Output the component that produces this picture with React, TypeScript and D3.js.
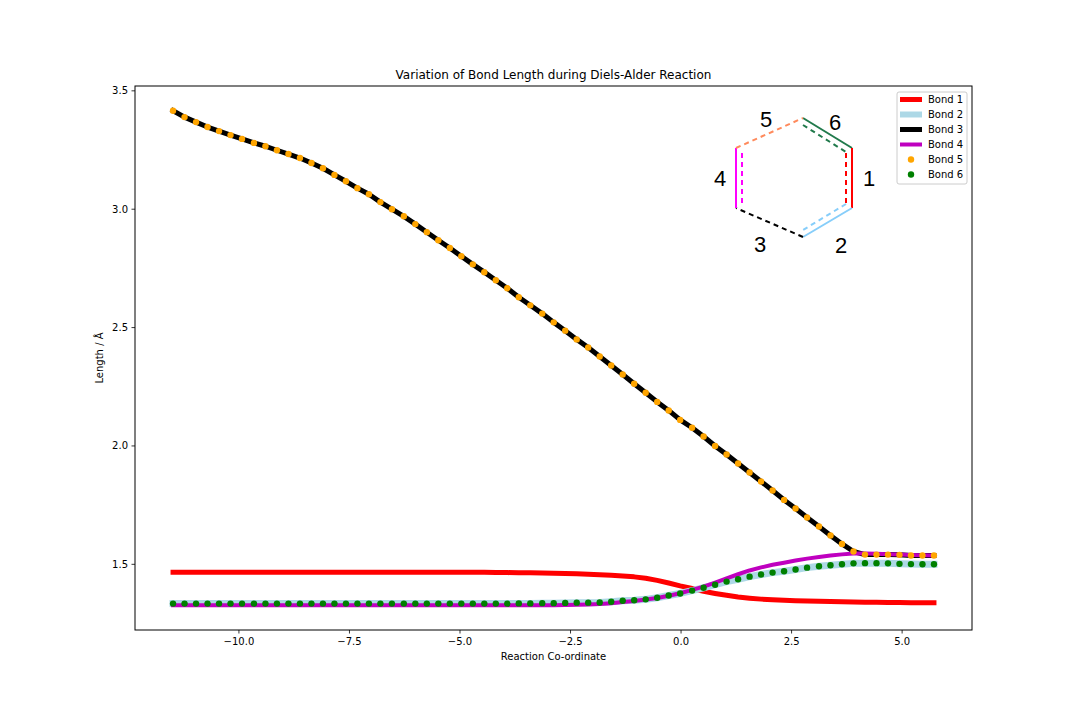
import React from 'react';
import * as d3 from 'd3';

// reaction co-ordinate of every IRC point
const reactionCoord = [
  -11.49, -11.23, -10.97, -10.71, -10.45, -10.19, -9.93, -9.66, -9.40, -9.14,
  -8.88, -8.62, -8.36, -8.10, -7.84, -7.58, -7.32, -7.06, -6.80, -6.54,
  -6.27, -6.01, -5.75, -5.49, -5.23, -4.97, -4.71, -4.45, -4.19, -3.93,
  -3.67, -3.41, -3.14, -2.88, -2.62, -2.36, -2.10, -1.84, -1.58, -1.32,
  -1.06, -0.80, -0.54, -0.28, -0.02, 0.25, 0.51, 0.77, 1.03, 1.29,
  1.55, 1.81, 2.07, 2.33, 2.59, 2.85, 3.12, 3.38, 3.64, 3.90,
  4.16, 4.42, 4.68, 4.94, 5.20, 5.46, 5.72,
];

const bond1 = [
  1.467, 1.467, 1.467, 1.467, 1.467, 1.467, 1.467, 1.467, 1.467, 1.467,
  1.467, 1.467, 1.467, 1.467, 1.467, 1.467, 1.467, 1.467, 1.467, 1.467,
  1.467, 1.467, 1.467, 1.467, 1.467, 1.467, 1.466, 1.466, 1.465, 1.465,
  1.464, 1.464, 1.463, 1.462, 1.461, 1.460, 1.458, 1.456, 1.454, 1.451,
  1.447, 1.441, 1.432, 1.421, 1.409, 1.398, 1.386, 1.377, 1.369, 1.362,
  1.357, 1.353, 1.350, 1.348, 1.346, 1.345, 1.344, 1.343, 1.342, 1.341,
  1.340, 1.340, 1.339, 1.339, 1.338, 1.338, 1.338,
];

const bond2 = [
  1.334, 1.334, 1.334, 1.334, 1.334, 1.334, 1.334, 1.334, 1.334, 1.334,
  1.334, 1.334, 1.334, 1.334, 1.334, 1.334, 1.334, 1.334, 1.334, 1.334,
  1.334, 1.334, 1.334, 1.334, 1.334, 1.334, 1.334, 1.334, 1.334, 1.334,
  1.335, 1.335, 1.336, 1.336, 1.337, 1.338, 1.338, 1.339, 1.342, 1.346,
  1.348, 1.352, 1.359, 1.368, 1.377, 1.389, 1.401, 1.414, 1.427, 1.437,
  1.448, 1.457, 1.465, 1.471, 1.478, 1.486, 1.492, 1.496, 1.500, 1.504,
  1.505, 1.505, 1.504, 1.502, 1.501, 1.500, 1.500,
];

const bond3 = [
  3.416, 3.389, 3.368, 3.347, 3.330, 3.313, 3.297, 3.280, 3.266, 3.249,
  3.233, 3.216, 3.195, 3.173, 3.145, 3.118, 3.089, 3.063, 3.030, 3.000,
  2.970, 2.937, 2.903, 2.869, 2.836, 2.801, 2.767, 2.734, 2.700, 2.666,
  2.628, 2.594, 2.559, 2.522, 2.487, 2.450, 2.416, 2.378, 2.340, 2.302,
  2.263, 2.225, 2.186, 2.150, 2.110, 2.077, 2.040, 2.000, 1.964, 1.926,
  1.888, 1.850, 1.812, 1.772, 1.736, 1.698, 1.660, 1.622, 1.586, 1.554,
  1.541, 1.541, 1.541, 1.540, 1.537, 1.537, 1.537,
];

const bond4 = [
  1.327, 1.327, 1.327, 1.327, 1.327, 1.327, 1.327, 1.327, 1.327, 1.327,
  1.327, 1.327, 1.327, 1.327, 1.327, 1.327, 1.327, 1.327, 1.327, 1.327,
  1.327, 1.327, 1.327, 1.327, 1.327, 1.327, 1.327, 1.327, 1.327, 1.327,
  1.327, 1.327, 1.327, 1.327, 1.328, 1.329, 1.330, 1.332, 1.336, 1.341,
  1.345, 1.351, 1.358, 1.367, 1.378, 1.392, 1.406, 1.423, 1.441, 1.458,
  1.474, 1.487, 1.498, 1.507, 1.516, 1.524, 1.531, 1.537, 1.542, 1.546,
  1.546, 1.545, 1.543, 1.541, 1.539, 1.538, 1.537,
];

// bonds 5 and 6 sit exactly on bonds 3 and 2
const bond5 = bond3;
const bond6 = bond2;

const xTicks = [-10, -7.5, -5, -2.5, 0, 2.5, 5];
const yTicks = [1.5, 2.0, 2.5, 3.0, 3.5];

const W = 1080;
const H = 720;
const plot = { left: 135, right: 972, top: 86, bottom: 630 };
const FONT = '"DejaVu Sans", sans-serif';

const lineSeries = [
  { label: 'Bond 1', values: bond1, color: '#ff0000', width: 5 },
  { label: 'Bond 2', values: bond2, color: '#add8e6', width: 7 },
  { label: 'Bond 3', values: bond3, color: '#000000', width: 5 },
  { label: 'Bond 4', values: bond4, color: '#bf00bf', width: 4 },
];
const dotSeries = [
  { label: 'Bond 5', values: bond5, color: '#ffa500' },
  { label: 'Bond 6', values: bond6, color: '#008000' },
];

// matplotlib style 5% margin around the data
const padded = (lo: number, hi: number) => {
  const p = (hi - lo) * 0.05;
  return [lo - p, hi + p];
};

// the hexagon picture in the top right corner (pixel positions)
const hexEdges = [
  { x1: 803, y1: 118, x2: 852, y2: 148, color: '#217a4c', dash: false },
  { x1: 803, y1: 125, x2: 846, y2: 152, color: '#217a4c', dash: true },
  { x1: 852, y1: 148, x2: 852, y2: 208, color: '#ff0000', dash: false },
  { x1: 846, y1: 153, x2: 846, y2: 204, color: '#ff0000', dash: true },
  { x1: 852, y1: 208, x2: 803, y2: 237, color: '#87cefa', dash: false },
  { x1: 846, y1: 204, x2: 803, y2: 230, color: '#87cefa', dash: true },
  { x1: 803, y1: 237, x2: 736, y2: 208, color: '#000000', dash: true },
  { x1: 736, y1: 148, x2: 736, y2: 208, color: '#ff00ff', dash: false },
  { x1: 742, y1: 153, x2: 742, y2: 204, color: '#ff00ff', dash: true },
  { x1: 736, y1: 148, x2: 803, y2: 118, color: '#ff8a5c', dash: true },
];
const hexLabels = [
  { t: '5', x: 766, y: 127 },
  { t: '6', x: 835, y: 130 },
  { t: '1', x: 869, y: 186 },
  { t: '2', x: 841, y: 253 },
  { t: '3', x: 760, y: 252 },
  { t: '4', x: 720, y: 186 },
];

const App: React.FC = () => {
  const [xMin, xMax] = padded(d3.min(reactionCoord)!, d3.max(reactionCoord)!);
  const allY = [...bond1, ...bond2, ...bond3, ...bond4];
  const [yMin, yMax] = padded(d3.min(allY)!, d3.max(allY)!);

  const x = d3.scaleLinear().domain([xMin, xMax]).range([plot.left, plot.right]);
  const y = d3.scaleLinear().domain([yMin, yMax]).range([plot.bottom, plot.top]);
  const fmt = d3.format('.1f');

  const line = (vals: number[]) =>
    d3.line<number>()
      .x((_, i) => x(reactionCoord[i]))
      .y(d => y(d))(vals) || '';

  const legendX = 897;
  const legendY = 92;

  return (
    <svg
      width={W}
      height={H}
      style={{ position: 'absolute', left: 0, top: 0, background: '#fff' }}
      fontFamily={FONT}
    >
      <rect x={0} y={0} width={W} height={H} fill="#fff" />

      {/* data */}
      <g>
        {lineSeries.map(s => (
          <path
            key={s.label}
            d={line(s.values)}
            fill="none"
            stroke={s.color}
            strokeWidth={s.width}
            strokeLinecap="square"
            strokeLinejoin="round"
          />
        ))}
        {dotSeries.map(s => (
          <g key={s.label}>
            {s.values.map((v, i) => (
              <circle key={i} cx={x(reactionCoord[i])} cy={y(v)} r={3.2} fill={s.color} />
            ))}
          </g>
        ))}
      </g>

      {/* axes frame */}
      <rect
        x={plot.left}
        y={plot.top}
        width={plot.right - plot.left}
        height={plot.bottom - plot.top}
        fill="none"
        stroke="#000"
        strokeWidth={1}
      />

      {xTicks.map(t => (
        <g key={t} transform={`translate(${x(t)},${plot.bottom})`}>
          <line y2={3.5} stroke="#000" strokeWidth={0.8} />
          <text y={15} textAnchor="middle" fontSize={10} fill="#000">{fmt(t)}</text>
        </g>
      ))}
      {yTicks.map(t => (
        <g key={t} transform={`translate(${plot.left},${y(t)})`}>
          <line x2={-3.5} stroke="#000" strokeWidth={0.8} />
          <text x={-7} dy="0.35em" textAnchor="end" fontSize={10} fill="#000">{fmt(t)}</text>
        </g>
      ))}

      <text x={(plot.left + plot.right) / 2} y={660} textAnchor="middle" fontSize={10}>
        Reaction Co-ordinate
      </text>
      <text
        transform={`translate(103,${(plot.top + plot.bottom) / 2}) rotate(-90)`}
        textAnchor="middle"
        fontSize={10}
      >
        Length / Å
      </text>
      <text x={(plot.left + plot.right) / 2} y={79} textAnchor="middle" fontSize={12}>
        Variation of Bond Length during Diels-Alder Reaction
      </text>

      {/* hexagon inset */}
      <g>
        {hexEdges.map((e, i) => (
          <line
            key={i}
            x1={e.x1}
            y1={e.y1}
            x2={e.x2}
            y2={e.y2}
            stroke={e.color}
            strokeWidth={2}
            strokeDasharray={e.dash ? '5 4' : undefined}
          />
        ))}
        {hexLabels.map(l => (
          <text
            key={l.t}
            x={l.x}
            y={l.y}
            textAnchor="middle"
            fontSize={22}
            fontFamily='"Liberation Sans", Arial, sans-serif'
            fill="#000"
          >
            {l.t}
          </text>
        ))}
      </g>

      {/* legend */}
      <g transform={`translate(${legendX},${legendY})`}>
        <rect width={70} height={92} rx={2} fill="#fff" fillOpacity={0.8} stroke="#cccccc" />
        {lineSeries.map((s, i) => (
          <g key={s.label} transform={`translate(0,${7.5 + i * 15})`}>
            <line x1={3} x2={25} stroke={s.color} strokeWidth={s.width === 7 ? 6 : s.width} />
            <text x={31} dy="0.35em" fontSize={10}>{s.label}</text>
          </g>
        ))}
        {dotSeries.map((s, i) => (
          <g key={s.label} transform={`translate(0,${7.5 + (i + 4) * 15})`}>
            <circle cx={14} r={3.2} fill={s.color} />
            <text x={31} dy="0.35em" fontSize={10}>{s.label}</text>
          </g>
        ))}
      </g>
    </svg>
  );
};

export default App;
